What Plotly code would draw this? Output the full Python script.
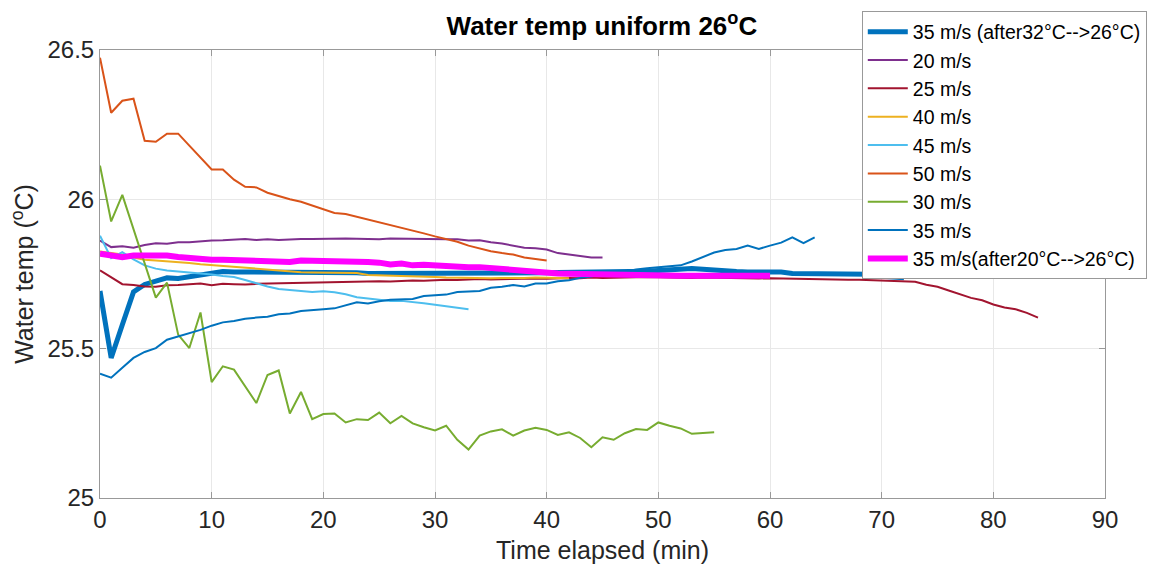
import plotly.graph_objects as go

# ---- data (minutes, water temp degC) ----
t_35_after32 = list(range(0, 73))
v_35_after32 = [25.693, 25.469, 25.58, 25.69, 25.715, 25.726, 25.737, 25.735, 25.74, 25.746,
                25.754, 25.758, 25.757, 25.757, 25.756, 25.757, 25.756, 25.755, 25.756, 25.755,
                25.755, 25.754, 25.753, 25.754, 25.752, 25.752, 25.751, 25.752, 25.751, 25.75,
                25.751, 25.75, 25.752, 25.75, 25.751, 25.75, 25.751, 25.752, 25.752, 25.753,
                25.754, 25.755, 25.755, 25.756, 25.756, 25.757, 25.757, 25.758, 25.758, 25.759,
                25.762, 25.765, 25.767, 25.768, 25.766, 25.762, 25.76, 25.758, 25.757, 25.757,
                25.757, 25.757, 25.752, 25.752, 25.751, 25.749, 25.749, 25.751, 25.75, 25.749,
                25.742, 25.738, 25.737]

t_20 = list(range(0, 46))
v_20 = [25.862, 25.84, 25.843, 25.838, 25.847, 25.853, 25.851, 25.856, 25.856, 25.86,
        25.862, 25.863, 25.866, 25.867, 25.864, 25.866, 25.864, 25.866, 25.867, 25.867,
        25.868, 25.868, 25.869, 25.868, 25.868, 25.866, 25.869, 25.868, 25.869, 25.867,
        25.866, 25.866, 25.866, 25.862, 25.863, 25.856, 25.852, 25.845, 25.838, 25.836,
        25.832, 25.82, 25.816, 25.81, 25.805, 25.805]

t_25 = list(range(0, 85))
v_25 = [25.762, 25.738, 25.716, 25.713, 25.708, 25.707, 25.712, 25.713, 25.715, 25.718,
        25.712, 25.717, 25.716, 25.715, 25.717, 25.718, 25.717, 25.719, 25.72, 25.722,
        25.723, 25.724, 25.723, 25.725, 25.726, 25.726, 25.725, 25.727, 25.728, 25.727,
        25.73, 25.731, 25.73, 25.732, 25.733, 25.732, 25.733, 25.734, 25.735, 25.735,
        25.734, 25.736, 25.737, 25.736, 25.738, 25.737, 25.738, 25.739, 25.738, 25.74,
        25.739, 25.738, 25.739, 25.737, 25.738, 25.737, 25.736, 25.736, 25.735, 25.735,
        25.736, 25.735, 25.734, 25.734, 25.733, 25.733, 25.732, 25.731, 25.731, 25.73,
        25.729, 25.727, 25.727, 25.724, 25.714, 25.707, 25.695, 25.683, 25.67, 25.662,
        25.648, 25.638, 25.632, 25.62, 25.604]

t_40 = list(range(0, 43))
v_40 = [25.825, 25.82, 25.815, 25.805, 25.798, 25.795, 25.793, 25.79, 25.787, 25.783,
        25.78, 25.775, 25.772, 25.769, 25.767, 25.764, 25.76, 25.758, 25.756, 25.755,
        25.754, 25.755, 25.754, 25.753, 25.747, 25.746, 25.746, 25.745, 25.744, 25.742,
        25.74, 25.738, 25.737, 25.737, 25.737, 25.736, 25.737, 25.736, 25.737, 25.738,
        25.737, 25.736, 25.736]

t_45 = list(range(0, 34))
v_45 = [25.878, 25.803, 25.823, 25.799, 25.779, 25.768, 25.762, 25.759, 25.755, 25.752,
        25.748, 25.743, 25.74, 25.73, 25.718, 25.708, 25.7, 25.696, 25.693, 25.69,
        25.692, 25.689, 25.682, 25.672, 25.668, 25.665, 25.66, 25.66, 25.657, 25.652,
        25.647, 25.641, 25.637, 25.632]

t_50 = list(range(0, 41))
v_50 = [26.474, 26.29, 26.33, 26.337, 26.196, 26.193, 26.22, 26.22, 26.18, 26.14,
        26.10, 26.10, 26.066, 26.042, 26.04, 26.022, 26.011, 26.0, 25.992, 25.98,
        25.967, 25.954, 25.951, 25.942, 25.932, 25.923, 25.914, 25.904, 25.895, 25.886,
        25.876, 25.867, 25.858, 25.845, 25.835, 25.826, 25.82, 25.815, 25.805, 25.80,
        25.795]

t_30 = list(range(0, 56))
v_30 = [26.113, 25.926, 26.015, 25.90, 25.785, 25.671, 25.721, 25.547, 25.502, 25.621,
        25.388, 25.441, 25.43, 25.375, 25.318, 25.412, 25.427, 25.283, 25.355, 25.264,
        25.281, 25.283, 25.253, 25.264, 25.261, 25.286, 25.25, 25.275, 25.25, 25.237,
        25.226, 25.242, 25.195, 25.162, 25.209, 25.223, 25.23, 25.209, 25.226, 25.235,
        25.228, 25.211, 25.22, 25.201, 25.17, 25.203, 25.195, 25.217, 25.231, 25.228,
        25.253, 25.242, 25.233, 25.215, 25.217, 25.22]

t_35 = list(range(0, 65))
v_35 = [25.416, 25.403, 25.436, 25.469, 25.489, 25.502, 25.53, 25.541, 25.554, 25.563,
        25.577, 25.588, 25.593, 25.6, 25.604, 25.607, 25.615, 25.618, 25.626, 25.63,
        25.632, 25.635, 25.644, 25.655, 25.651, 25.659, 25.664, 25.666, 25.666, 25.676,
        25.679, 25.681, 25.69, 25.692, 25.693, 25.704, 25.707, 25.713, 25.708, 25.718,
        25.718, 25.726, 25.729, 25.737, 25.742, 25.75, 25.756, 25.758, 25.765, 25.769,
        25.773, 25.775, 25.779, 25.792, 25.808, 25.822, 25.83, 25.834, 25.845, 25.834,
        25.845, 25.855, 25.873, 25.853, 25.873]

t_35_after20 = list(range(0, 61))
v_35_after20 = [25.818, 25.812, 25.806, 25.812, 25.813, 25.814, 25.812, 25.807, 25.803, 25.798,
                25.798, 25.798, 25.797, 25.799, 25.797, 25.797, 25.794, 25.79, 25.795, 25.795,
                25.79, 25.792, 25.792, 25.792, 25.79, 25.788, 25.782, 25.785, 25.779, 25.781,
                25.778, 25.777, 25.775, 25.773, 25.773, 25.77, 25.767, 25.762, 25.758, 25.756,
                25.754, 25.752, 25.751, 25.75, 25.749, 25.747, 25.746, 25.746, 25.746, 25.746,
                25.745, 25.745, 25.744, 25.744, 25.745, 25.744, 25.744, 25.745, 25.744, 25.744,
                25.744]

x_ticks = [0, 10, 20, 30, 40, 50, 60, 70, 80, 90]
y_ticks = [25, 25.5, 26, 26.5]
y_ticktext = ["25", "25.5", "26", "26.5"]

series = [
    ("35 m/s (after32°C-->26°C)", t_35_after32, v_35_after32, "#0072BD", 5),
    ("20 m/s", t_20, v_20, "#7E2F8E", 2),
    ("25 m/s", t_25, v_25, "#A2142F", 2),
    ("40 m/s", t_40, v_40, "#EDB120", 2),
    ("45 m/s", t_45, v_45, "#4DBEEE", 2),
    ("50 m/s", t_50, v_50, "#D95319", 2),
    ("30 m/s", t_30, v_30, "#77AC30", 2),
    ("35 m/s", t_35, v_35, "#0072BD", 2),
    ("35 m/s(after20°C-->26°C)", t_35_after20, v_35_after20, "#FF00FF", 6),
]

fig = go.Figure()
for name, t, v, col, w in series:
    fig.add_trace(go.Scatter(x=t, y=v, mode="lines", name=name,
                             line=dict(color=col, width=w)))

FONT = "Liberation Sans, Arial, Helvetica, sans-serif"
axis_common = dict(showline=True, linecolor="#999999", linewidth=1, mirror="ticks",
                   ticks="inside", ticklen=6, tickcolor="#999999",
                   showgrid=True, gridcolor="#e8e8e8", gridwidth=1, zeroline=False,
                   tickfont=dict(family=FONT, size=24, color="#262626"))

fig.update_layout(
    width=1171, height=571,
    margin=dict(l=100, r=66, t=46, b=73),
    paper_bgcolor="white", plot_bgcolor="white",
    font=dict(family=FONT, color="#262626"),
    title=dict(text="<b>Water temp uniform 26<sup>o</sup>C</b>", x=0.514, xanchor="center",
               y=0.955, yanchor="middle", font=dict(family=FONT, size=26, color="black")),
    xaxis=dict(range=[0, 90], tickvals=x_ticks, ticktext=[str(v) for v in x_ticks],
               title=dict(text="Time elapsed (min)", font=dict(family=FONT, size=25, color="#262626"),
                          standoff=9),
               **axis_common),
    yaxis=dict(range=[25, 26.5], tickvals=y_ticks, ticktext=y_ticktext,
               title=dict(text="Water temp (<sup>o</sup>C)", font=dict(family=FONT, size=25, color="#262626"),
                          standoff=6),
               **axis_common),
    legend=dict(x=0.758, y=1.086, xanchor="left", yanchor="top",
                bgcolor="white", bordercolor="#999999", borderwidth=1, itemwidth=40,
                font=dict(family=FONT, size=19.5, color="black")),
    showlegend=True,
)

fig.write_html("out.html")
